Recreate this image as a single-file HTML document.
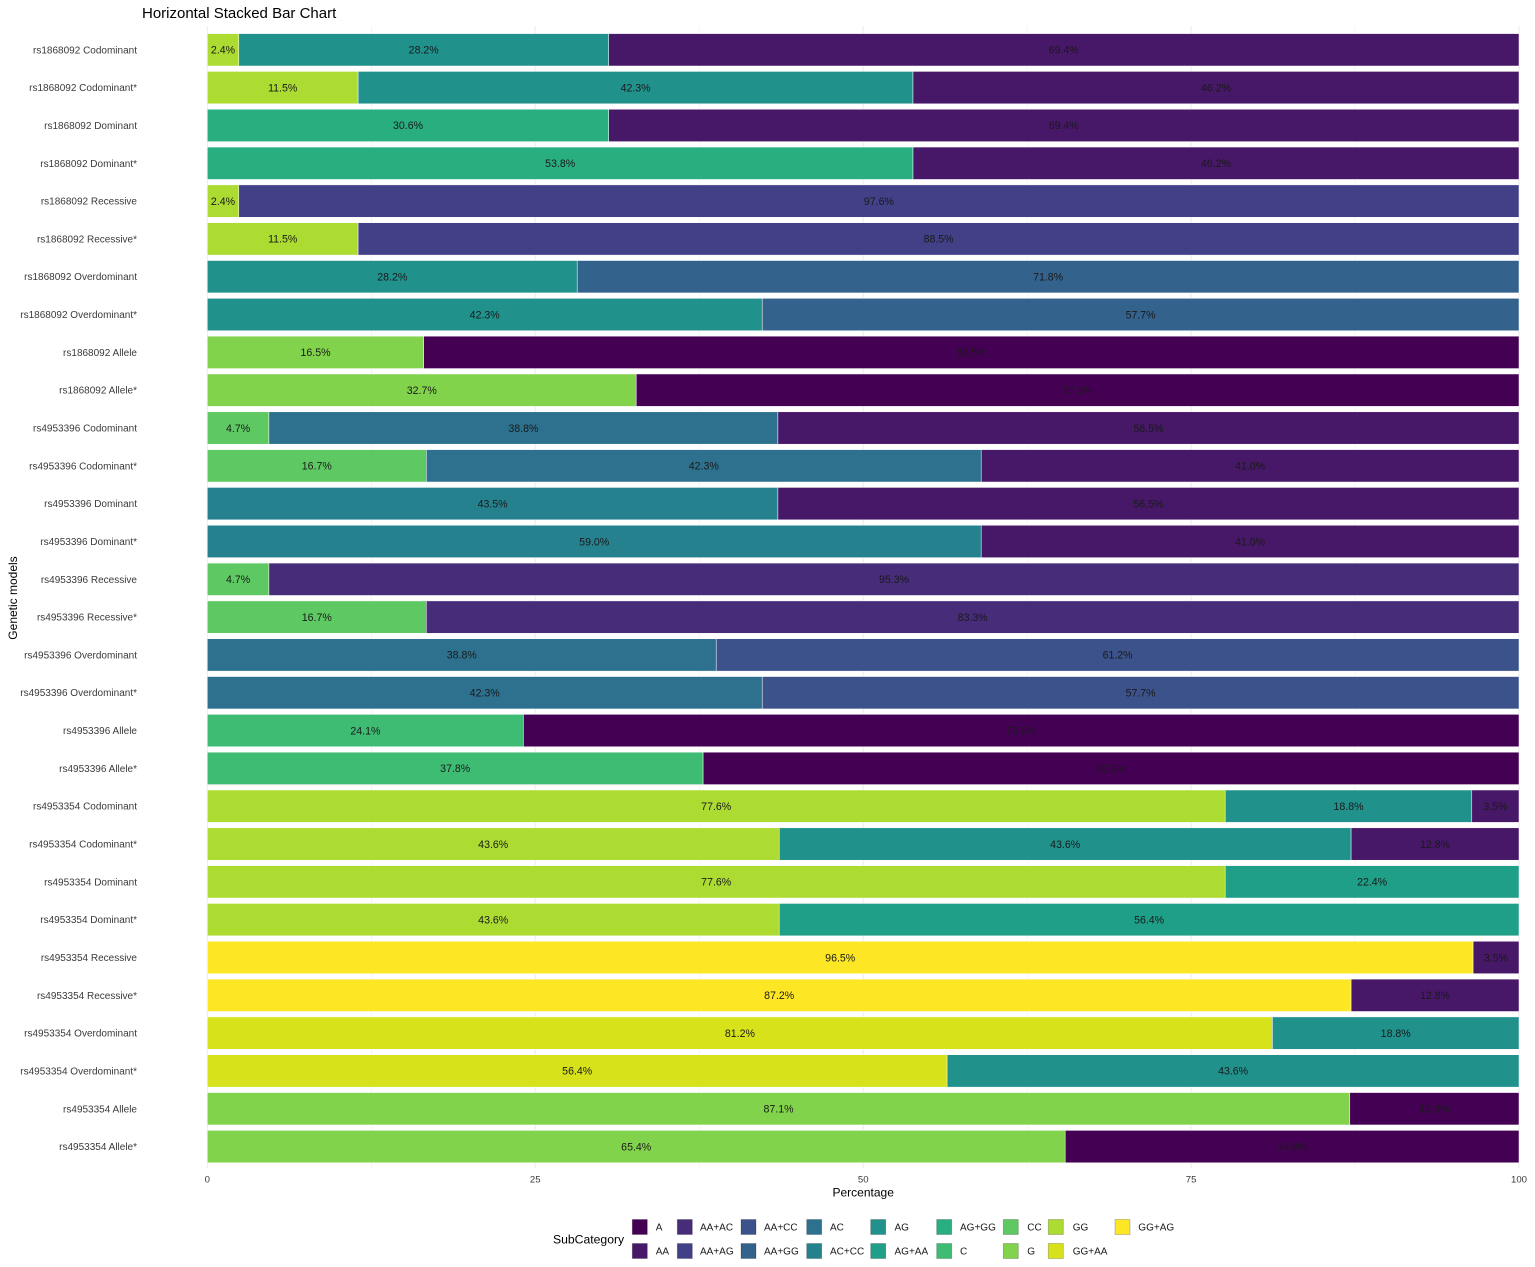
<!DOCTYPE html>
<html><head><meta charset="utf-8"><style>
html,body{margin:0;padding:0;background:#fff;}
svg{display:block;font-family:"Liberation Sans",Arial,sans-serif;}
.A{fill:#440154}.AA{fill:#471768}.AAAC{fill:#472C7A}.AAAG{fill:#424086}.AACC{fill:#3B528B}.AAGG{fill:#33628D}
.AC{fill:#2D718E}.ACCC{fill:#26818E}.AG{fill:#21918C}.AGAA{fill:#1F9F88}.AGGG{fill:#29AE80}.C{fill:#3FBC73}
.CC{fill:#5EC962}.G{fill:#82D34C}.GG{fill:#ACDC31}.GGAA{fill:#D7E21B}.GGAG{fill:#FDE725}
.bars rect{stroke:#fff;stroke-width:0.5;height:32.4px}
.bars text{font-size:10.6px;fill:#1a1a1a;text-anchor:middle}
.yl text{font-size:10px;fill:#3a3a3a;text-anchor:end}
.lg rect{stroke-width:0.8;stroke:rgba(0,0,0,0.25)}
.lg text{font-size:10px;fill:#1a1a1a}
</style></head><body>
<svg width="1535" height="1267" viewBox="0 0 1535 1267" xmlns="http://www.w3.org/2000/svg">
<rect width="1535" height="1267" fill="#fff"/>
<text x="142" y="18" font-size="15" fill="#000">Horizontal Stacked Bar Chart</text>
<g stroke="#ebebeb">
<line x1="207.3" y1="26" x2="207.3" y2="1168" stroke-width="1"/>
<line x1="371.3" y1="26" x2="371.3" y2="1168" stroke-width="0.5"/>
<line x1="535.2" y1="26" x2="535.2" y2="1168" stroke-width="1"/>
<line x1="699.2" y1="26" x2="699.2" y2="1168" stroke-width="0.5"/>
<line x1="863.2" y1="26" x2="863.2" y2="1168" stroke-width="1"/>
<line x1="1027.1" y1="26" x2="1027.1" y2="1168" stroke-width="0.5"/>
<line x1="1191.1" y1="26" x2="1191.1" y2="1168" stroke-width="1"/>
<line x1="1355" y1="26" x2="1355" y2="1168" stroke-width="0.5"/>
<line x1="1519" y1="26" x2="1519" y2="1168" stroke-width="1"/>
</g>
<g class="bars">
<g transform="translate(0,33.6)"><rect class="GG" x="207.3" width="31.5"/><rect class="AG" x="238.8" width="369.9"/><rect class="AA" x="608.7" width="910.3"/><text x="223" y="20">2.4%</text><text x="423.7" y="20">28.2%</text><text x="1063.8" y="20">69.4%</text></g>
<g transform="translate(0,71.42)"><rect class="GG" x="207.3" width="150.8"/><rect class="AG" x="358.1" width="554.9"/><rect class="AA" x="913" width="606"/><text x="282.7" y="20">11.5%</text><text x="635.6" y="20">42.3%</text><text x="1216" y="20">46.2%</text></g>
<g transform="translate(0,109.24)"><rect class="AGGG" x="207.3" width="401.4"/><rect class="AA" x="608.7" width="910.3"/><text x="408" y="20">30.6%</text><text x="1063.8" y="20">69.4%</text></g>
<g transform="translate(0,147.06)"><rect class="AGGG" x="207.3" width="705.7"/><rect class="AA" x="913" width="606"/><text x="560.2" y="20">53.8%</text><text x="1216" y="20">46.2%</text></g>
<g transform="translate(0,184.88)"><rect class="GG" x="207.3" width="31.5"/><rect class="AAAG" x="238.8" width="1280.2"/><text x="223" y="20">2.4%</text><text x="878.9" y="20">97.6%</text></g>
<g transform="translate(0,222.7)"><rect class="GG" x="207.3" width="150.8"/><rect class="AAAG" x="358.1" width="1160.9"/><text x="282.7" y="20">11.5%</text><text x="938.6" y="20">88.5%</text></g>
<g transform="translate(0,260.52)"><rect class="AG" x="207.3" width="369.9"/><rect class="AAGG" x="577.2" width="941.8"/><text x="392.3" y="20">28.2%</text><text x="1048.1" y="20">71.8%</text></g>
<g transform="translate(0,298.34)"><rect class="AG" x="207.3" width="554.9"/><rect class="AAGG" x="762.2" width="756.8"/><text x="484.7" y="20">42.3%</text><text x="1140.6" y="20">57.7%</text></g>
<g transform="translate(0,336.16)"><rect class="G" x="207.3" width="216.4"/><rect class="A" x="423.7" width="1095.3"/><text x="315.5" y="20">16.5%</text><text x="971.4" y="20">83.5%</text></g>
<g transform="translate(0,373.98)"><rect class="G" x="207.3" width="428.9"/><rect class="A" x="636.2" width="882.8"/><text x="421.8" y="20">32.7%</text><text x="1077.6" y="20">67.3%</text></g>
<g transform="translate(0,411.8)"><rect class="CC" x="207.3" width="61.6"/><rect class="AC" x="268.9" width="509"/><rect class="AA" x="777.9" width="741.1"/><text x="238.1" y="20">4.7%</text><text x="523.4" y="20">38.8%</text><text x="1148.4" y="20">56.5%</text></g>
<g transform="translate(0,449.62)"><rect class="CC" x="207.3" width="219"/><rect class="AC" x="426.3" width="554.9"/><rect class="AA" x="981.2" width="537.8"/><text x="316.8" y="20">16.7%</text><text x="703.8" y="20">42.3%</text><text x="1250.1" y="20">41.0%</text></g>
<g transform="translate(0,487.44)"><rect class="ACCC" x="207.3" width="570.6"/><rect class="AA" x="777.9" width="741.1"/><text x="492.6" y="20">43.5%</text><text x="1148.4" y="20">56.5%</text></g>
<g transform="translate(0,525.26)"><rect class="ACCC" x="207.3" width="773.9"/><rect class="AA" x="981.2" width="537.8"/><text x="594.2" y="20">59.0%</text><text x="1250.1" y="20">41.0%</text></g>
<g transform="translate(0,563.08)"><rect class="CC" x="207.3" width="61.6"/><rect class="AAAC" x="268.9" width="1250.1"/><text x="238.1" y="20">4.7%</text><text x="894" y="20">95.3%</text></g>
<g transform="translate(0,600.9)"><rect class="CC" x="207.3" width="219"/><rect class="AAAC" x="426.3" width="1092.7"/><text x="316.8" y="20">16.7%</text><text x="972.7" y="20">83.3%</text></g>
<g transform="translate(0,638.72)"><rect class="AC" x="207.3" width="508.9"/><rect class="AACC" x="716.2" width="802.8"/><text x="461.8" y="20">38.8%</text><text x="1117.6" y="20">61.2%</text></g>
<g transform="translate(0,676.54)"><rect class="AC" x="207.3" width="554.9"/><rect class="AACC" x="762.2" width="756.8"/><text x="484.7" y="20">42.3%</text><text x="1140.6" y="20">57.7%</text></g>
<g transform="translate(0,714.36)"><rect class="C" x="207.3" width="316.1"/><rect class="A" x="523.4" width="995.6"/><text x="365.4" y="20">24.1%</text><text x="1021.2" y="20">75.9%</text></g>
<g transform="translate(0,752.18)"><rect class="C" x="207.3" width="495.8"/><rect class="A" x="703.1" width="815.9"/><text x="455.2" y="20">37.8%</text><text x="1111.1" y="20">62.2%</text></g>
<g transform="translate(0,790)"><rect class="GG" x="207.3" width="1017.9"/><rect class="AG" x="1225.2" width="246.6"/><rect class="AA" x="1471.8" width="47.2"/><text x="716.2" y="20">77.6%</text><text x="1348.5" y="20">18.8%</text><text x="1495.4" y="20">3.5%</text></g>
<g transform="translate(0,827.82)"><rect class="GG" x="207.3" width="571.9"/><rect class="AG" x="779.2" width="571.9"/><rect class="AA" x="1351.1" width="167.9"/><text x="493.2" y="20">43.6%</text><text x="1065.2" y="20">43.6%</text><text x="1435.1" y="20">12.8%</text></g>
<g transform="translate(0,865.64)"><rect class="GG" x="207.3" width="1017.9"/><rect class="AGAA" x="1225.2" width="293.8"/><text x="716.2" y="20">77.6%</text><text x="1372.1" y="20">22.4%</text></g>
<g transform="translate(0,903.46)"><rect class="GG" x="207.3" width="571.9"/><rect class="AGAA" x="779.2" width="739.8"/><text x="493.2" y="20">43.6%</text><text x="1149.1" y="20">56.4%</text></g>
<g transform="translate(0,941.28)"><rect class="GGAG" x="207.3" width="1265.8"/><rect class="AA" x="1473.1" width="45.9"/><text x="840.2" y="20">96.5%</text><text x="1496" y="20">3.5%</text></g>
<g transform="translate(0,979.1)"><rect class="GGAG" x="207.3" width="1143.8"/><rect class="AA" x="1351.1" width="167.9"/><text x="779.2" y="20">87.2%</text><text x="1435.1" y="20">12.8%</text></g>
<g transform="translate(0,1016.92)"><rect class="GGAA" x="207.3" width="1065.1"/><rect class="AG" x="1272.4" width="246.6"/><text x="739.9" y="20">81.2%</text><text x="1395.7" y="20">18.8%</text></g>
<g transform="translate(0,1054.74)"><rect class="GGAA" x="207.3" width="739.8"/><rect class="AG" x="947.1" width="571.9"/><text x="577.2" y="20">56.4%</text><text x="1233.1" y="20">43.6%</text></g>
<g transform="translate(0,1092.56)"><rect class="G" x="207.3" width="1142.5"/><rect class="A" x="1349.8" width="169.2"/><text x="778.5" y="20">87.1%</text><text x="1434.4" y="20">12.9%</text></g>
<g transform="translate(0,1130.38)"><rect class="G" x="207.3" width="857.9"/><rect class="A" x="1065.2" width="453.8"/><text x="636.2" y="20">65.4%</text><text x="1292.1" y="20">34.6%</text></g>
</g>
<g class="yl">
<text x="137" y="53.3">rs1868092 Codominant</text>
<text x="137" y="91.1">rs1868092 Codominant*</text>
<text x="137" y="128.9">rs1868092 Dominant</text>
<text x="137" y="166.8">rs1868092 Dominant*</text>
<text x="137" y="204.6">rs1868092 Recessive</text>
<text x="137" y="242.4">rs1868092 Recessive*</text>
<text x="137" y="280.2">rs1868092 Overdominant</text>
<text x="137" y="318">rs1868092 Overdominant*</text>
<text x="137" y="355.9">rs1868092 Allele</text>
<text x="137" y="393.7">rs1868092 Allele*</text>
<text x="137" y="431.5">rs4953396 Codominant</text>
<text x="137" y="469.3">rs4953396 Codominant*</text>
<text x="137" y="507.1">rs4953396 Dominant</text>
<text x="137" y="545">rs4953396 Dominant*</text>
<text x="137" y="582.8">rs4953396 Recessive</text>
<text x="137" y="620.6">rs4953396 Recessive*</text>
<text x="137" y="658.4">rs4953396 Overdominant</text>
<text x="137" y="696.2">rs4953396 Overdominant*</text>
<text x="137" y="734.1">rs4953396 Allele</text>
<text x="137" y="771.9">rs4953396 Allele*</text>
<text x="137" y="809.7">rs4953354 Codominant</text>
<text x="137" y="847.5">rs4953354 Codominant*</text>
<text x="137" y="885.3">rs4953354 Dominant</text>
<text x="137" y="923.2">rs4953354 Dominant*</text>
<text x="137" y="961">rs4953354 Recessive</text>
<text x="137" y="998.8">rs4953354 Recessive*</text>
<text x="137" y="1036.6">rs4953354 Overdominant</text>
<text x="137" y="1074.4">rs4953354 Overdominant*</text>
<text x="137" y="1112.3">rs4953354 Allele</text>
<text x="137" y="1150.1">rs4953354 Allele*</text>
</g>
<g font-size="9.6" fill="#3a3a3a" text-anchor="middle">
<text x="207.3" y="1182.5">0</text>
<text x="535.2" y="1182.5">25</text>
<text x="863.2" y="1182.5">50</text>
<text x="1191.1" y="1182.5">75</text>
<text x="1519" y="1182.5">100</text>
</g>
<text x="863.2" y="1196.5" font-size="12" fill="#000" text-anchor="middle">Percentage</text>
<text transform="translate(17,598) rotate(-90)" font-size="12" fill="#000" text-anchor="middle">Genetic models</text>
<text x="553" y="1243.5" font-size="12.2" fill="#000">SubCategory</text>
<g class="lg">
<rect class="A" x="632.3" y="1219.5" width="15" height="15"/><text x="655.7" y="1230.5">A</text>
<rect class="AA" x="632.3" y="1243.5" width="15" height="15"/><text x="655.7" y="1254.5">AA</text>
<rect class="AAAC" x="677.3" y="1219.5" width="15" height="15"/><text x="700" y="1230.5">AA+AC</text>
<rect class="AAAG" x="677.3" y="1243.5" width="15" height="15"/><text x="700" y="1254.5">AA+AG</text>
<rect class="AACC" x="741" y="1219.5" width="15" height="15"/><text x="764" y="1230.5">AA+CC</text>
<rect class="AAGG" x="741" y="1243.5" width="15" height="15"/><text x="764" y="1254.5">AA+GG</text>
<rect class="AC" x="806.7" y="1219.5" width="15" height="15"/><text x="830" y="1230.5">AC</text>
<rect class="ACCC" x="806.7" y="1243.5" width="15" height="15"/><text x="830" y="1254.5">AC+CC</text>
<rect class="AG" x="870.7" y="1219.5" width="15" height="15"/><text x="894.5" y="1230.5">AG</text>
<rect class="AGAA" x="870.7" y="1243.5" width="15" height="15"/><text x="894.5" y="1254.5">AG+AA</text>
<rect class="AGGG" x="936.7" y="1219.5" width="15" height="15"/><text x="960" y="1230.5">AG+GG</text>
<rect class="C" x="936.7" y="1243.5" width="15" height="15"/><text x="960" y="1254.5">C</text>
<rect class="CC" x="1003.3" y="1219.5" width="15" height="15"/><text x="1027.3" y="1230.5">CC</text>
<rect class="G" x="1003.3" y="1243.5" width="15" height="15"/><text x="1027.3" y="1254.5">G</text>
<rect class="GG" x="1048.3" y="1219.5" width="15" height="15"/><text x="1072.7" y="1230.5">GG</text>
<rect class="GGAA" x="1048.3" y="1243.5" width="15" height="15"/><text x="1072.7" y="1254.5">GG+AA</text>
<rect class="GGAG" x="1115" y="1219.5" width="15" height="15"/><text x="1138.3" y="1230.5">GG+AG</text>
</g>
</svg>
</body></html>
